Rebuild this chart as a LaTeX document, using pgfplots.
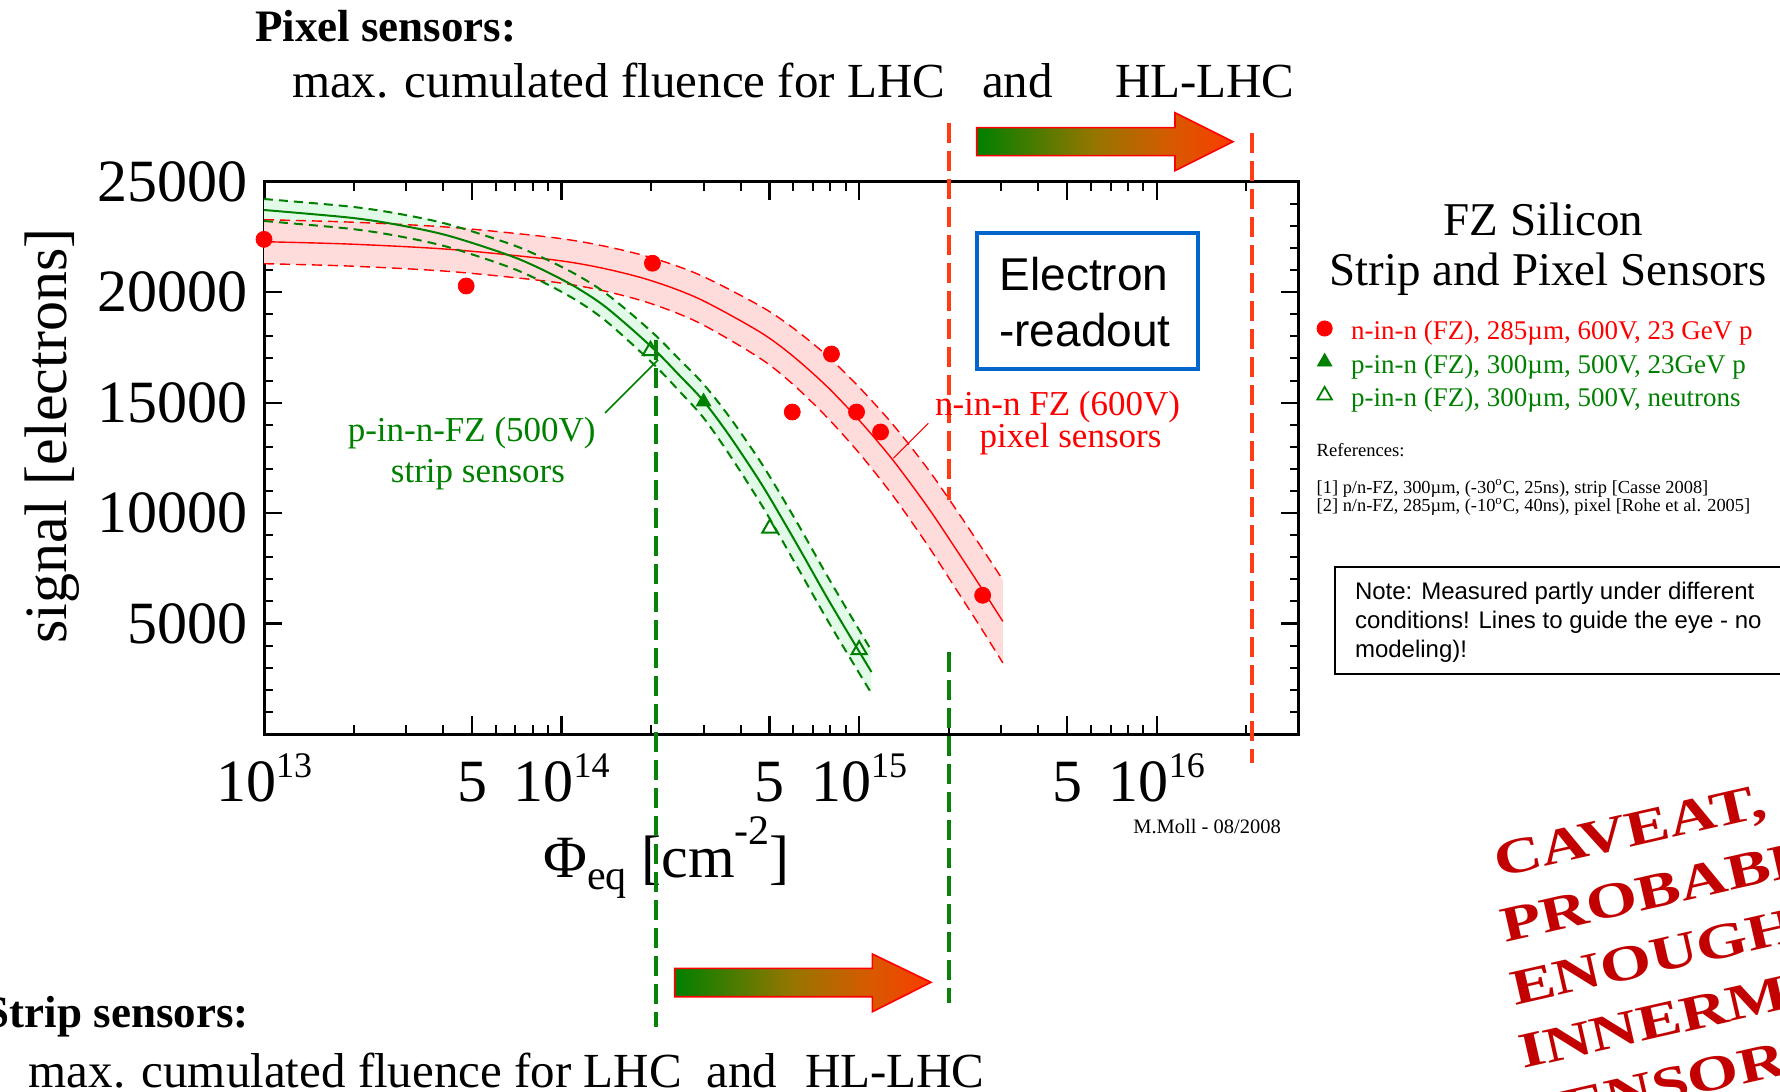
\documentclass[border=0pt]{standalone}
\usepackage{pgfplots}
\pgfplotsset{compat=1.18}
\usepackage{pgfplotstable}
\usepgfplotslibrary{fillbetween}
\usepackage{fontspec}
\setmainfont{Liberation Serif}
\newfontfamily\sansf{Liberation Sans}
\newcommand\fs[1]{\fontsize{#1}{#1}\selectfont}
\newcommand\tenp[1]{10\raisebox{0.4em}{\fs{18}#1}}
\definecolor{myred}{RGB}{255,0,0}
\definecolor{mygreen}{RGB}{0,128,0}
\definecolor{pinkfill}{RGB}{255,220,220}
\definecolor{greenfill}{RGB}{226,250,232}
\definecolor{vred}{RGB}{255,60,20}
\definecolor{vgreen}{RGB}{10,130,10}
\definecolor{boxblue}{RGB}{0,102,204}
\definecolor{caveat}{RGB}{195,0,0}
\definecolor{agreen}{RGB}{0,128,0}
\definecolor{amid}{RGB}{150,118,0}
\definecolor{aorange}{RGB}{215,90,0}
\definecolor{ared}{RGB}{250,60,0}
\pgfdeclarehorizontalshading{arrowgrad}{100bp}{color(0bp)=(agreen); color(25bp)=(agreen); color(48bp)=(amid); color(63bp)=(aorange); color(75bp)=(ared); color(100bp)=(ared)}

\pgfplotstableread{
x c u l
1.00e13 23719 24217 23221
1.95e13 23370 23873 22868
2.86e13 23031 23538 22524
4.22e13 22533 23049 22017
7.08e13 21533 22067 20998
1.04e14 20460 21030 19889
1.35e14 19509 20125 18894
1.69e14 18423 19088 17758
2.09e14 17291 17988 16594
2.49e14 16232 16952 15512
2.99e14 15096 15856 14335
3.67e14 13489 14344 12634
4.74e14 11226 12167 10284
6.17e14 8600 9596 7605
7.96e14 5975 6966 4984
1.10e15 2806 3775 1838
}\greenband

\pgfplotstableread{
x c u l
1.00e13 22284 23280 21288
1.95e13 22175 23171 21180
4.22e13 21935 22936 20935
9.14e13 21483 22488 20478
1.35e14 21107 22121 20093
1.98e14 20541 21582 19500
2.91e14 19690 20781 18599
4.64e14 18197 19382 17011
5.98e14 17115 18391 15838
7.78e14 15743 17137 14349
1.005e15 14172 15666 12679
1.30e15 12389 14000 10778
1.69e15 10320 12050 8591
2.06e15 8600 10397 6803
2.54e15 6735 8573 4898
3.04e15 5097 6975 3218
}\redband

\begin{document}
\begin{tikzpicture}
\path (0,0) rectangle (890pt,-545.5pt);
\begin{axis}[
  at={(132pt,-367pt)}, anchor=south west,
  scale only axis, width=517.35pt, height=276.15pt,
  xmode=log, xmin=1e13, xmax=3e16, ymin=0, ymax=25000,
  clip=false,
  scaled y ticks=false,
  axis line style={line width=1.5pt},
  tick align=inside,
  major tick length=9pt, minor tick length=4.5pt,
  major tick style={black, line width=1.1pt},
  minor tick style={black, line width=1pt},
  xtick={1e13,5e13,1e14,5e14,1e15,5e15,1e16},
  xticklabels={\tenp{13},5,\tenp{14},5,\tenp{15},5,\tenp{16}},
  minor xtick={2e13,3e13,4e13,6e13,7e13,8e13,9e13,2e14,3e14,4e14,6e14,7e14,8e14,9e14,2e15,3e15,4e15,6e15,7e15,8e15,9e15,2e16},
  ytick={5000,10000,15000,20000,25000},
  yticklabels={5000,10000,15000,20000,25000},
  minor ytick={1000,2000,3000,4000,6000,7000,8000,9000,11000,12000,13000,14000,16000,17000,18000,19000,21000,22000,23000,24000},
  /pgf/number format/assume math mode=true,
  tick label style={font=\fs{30}},
  xticklabel style={anchor=base, yshift=-33.85pt, inner sep=0pt},
  yticklabel style={anchor=east, inner sep=0pt, xshift=-8.25pt},
  xlabel={Φ\raisebox{-0.2em}{\fs{21}eq} [cm\raisebox{0.55em}{\fs{21}-2}]},
  ylabel={signal [electrons]},
  label style={font=\fs{30}},
  xlabel style={at={(rel axis cs:0.389,-0.2607)}, anchor=base, inner sep=0pt},
  ylabel style={at={(rel axis cs:-0.1907,0.5396)}, anchor=base, inner sep=0pt},
  legend style={at={(rel axis cs:1.0177,0.7496)}, anchor=north west, draw=none, fill=none,
    inner sep=0pt, outer sep=0pt, font=\fs{13.5}, row sep=3.2pt, column sep=9.5pt,
    nodes={inner sep=0pt, text height=10pt, text depth=3.5pt}},
  legend cell align=left,
  legend image post style={yshift=2.5pt},
]
\addlegendimage{only marks, mark=*, mark size=3.8pt, myred}
\addlegendentry{\textcolor{myred}{n-in-n (FZ), 285µm, 600V, 23 GeV p}}
\addlegendimage{only marks, mark=triangle*, mark size=4.2pt, mygreen}
\addlegendentry{\textcolor{mygreen}{p-in-n (FZ), 300µm, 500V, 23GeV p}}
\addlegendimage{only marks, mark=triangle, mark size=4.2pt, mygreen, mark options={line width=0.9pt}}
\addlegendentry{\textcolor{mygreen}{p-in-n (FZ), 300µm, 500V, neutrons}}

% bands
\addplot[draw=none, no markers, smooth, name path=gu] table[x=x,y=u]{\greenband};
\addplot[draw=none, no markers, smooth, name path=gl] table[x=x,y=l]{\greenband};
\addplot[draw=none, no markers, smooth, name path=ru] table[x=x,y=u]{\redband};
\addplot[draw=none, no markers, smooth, name path=rl] table[x=x,y=l]{\redband};
\addplot[greenfill, draw=none] fill between[of=gu and gl];
\addplot[pinkfill, draw=none] fill between[of=ru and rl];
% red lines
\addplot[myred, no markers, smooth, line width=0.7pt, dash pattern=on 5pt off 3pt] table[x=x,y=u]{\redband};
\addplot[myred, no markers, smooth, line width=0.7pt, dash pattern=on 5pt off 3pt] table[x=x,y=l]{\redband};
\addplot[myred, no markers, smooth, line width=0.7pt] table[x=x,y=c]{\redband};
% green lines
\addplot[mygreen, no markers, smooth, line width=1pt, dash pattern=on 4.5pt off 3pt] table[x=x,y=u]{\greenband};
\addplot[mygreen, no markers, smooth, line width=1pt, dash pattern=on 4.5pt off 3pt] table[x=x,y=l]{\greenband};
\addplot[mygreen, no markers, smooth, line width=1pt] table[x=x,y=c]{\greenband};
% data points
\addplot[only marks, mark=*, mark size=4pt, myred] coordinates {
 (1.0e13,22390) (4.78e13,20280) (2.02e14,21310) (5.96e14,14575)
 (8.07e14,17200) (9.8e14,14575) (1.18e15,13670) (2.6e15,6280)};
\addplot[only marks, mark=triangle*, mark size=4.2pt, mygreen] coordinates {(3.0e14,15040)};
\addplot[only marks, mark=triangle, mark size=4.4pt, mygreen, mark options={line width=1pt}] coordinates {
 (1.99e14,17350) (5.01e14,9311) (1.0e15,3810)};
\end{axis}

\begin{scope}[x=0.5pt, y=-0.5pt, every node/.style={inner sep=0pt, outer sep=0pt}]
% top texts
\node[anchor=base west, font=\bfseries\fs{22.5}] at (255,41.7) {Pixel sensors:};
\node[anchor=base west, font=\fs{24.5}] at (292,98) {max. cumulated fluence for LHC};
\node[anchor=base west, font=\fs{24.5}] at (982,98) {and};
\node[anchor=base west, font=\fs{24.5}] at (1115,98) {HL-LHC};
% bottom texts
\node[overlay, anchor=base east, font=\bfseries\fs{22.5}] at (248.7,1027) {Strip sensors:};
\node[overlay, anchor=base west, font=\fs{24.5}] at (28.7,1087) {max. cumulated fluence for LHC};
\node[overlay, anchor=base west, font=\fs{24.5}] at (706.6,1087) {and};
\node[overlay, anchor=base west, font=\fs{24.5}] at (805,1087) {HL-LHC};
% arrows
\shadedraw[shading=arrowgrad, draw=myred, line width=0.8pt]
  (976.7,127.7) -- (1175,127.7) -- (1175,112.7) -- (1233,141.7) -- (1175,170.7) -- (1175,155.7) -- (976.7,155.7) -- cycle;
\shadedraw[shading=arrowgrad, draw=myred, line width=0.8pt]
  (674.7,968.3) -- (872.4,968.3) -- (872.4,954) -- (931,982.3) -- (872.4,1011.7) -- (872.4,996.7) -- (674.7,996.7) -- cycle;
% vertical dashed lines
\draw[vred, line width=2pt, dash pattern=on 10pt off 4pt] (949,123) -- (949,500);
\draw[vred, line width=2pt, dash pattern=on 10pt off 4pt] (1251.7,133) -- (1251.7,763);
\draw[vgreen, line width=2pt, dash pattern=on 10pt off 4pt] (656,340) -- (656,1027);
\draw[vgreen, line width=2pt, dash pattern=on 10pt off 4pt] (949,652) -- (949,1003);
% electron box
\draw[boxblue, line width=2pt, fill=white] (976.7,232.7) rectangle (1197.7,369.3);
\node[anchor=base, font=\sansf\fs{23}] at (1084,290) {Electron};
\node[anchor=base, font=\sansf\fs{23}] at (1085,346.7) {-readout};
% plot labels
\node[anchor=base, text=mygreen, font=\fs{17.5}] at (471.7,441.7) {p-in-n-FZ (500V)};
\node[anchor=base, text=mygreen, font=\fs{17.5}] at (478,482) {strip sensors};
\draw[mygreen, line width=0.8pt] (605,413) -- (658,360);
\node[anchor=base, text=myred, font=\fs{17.5}] at (1057.5,415) {n-in-n FZ (600V)};
\node[anchor=base, text=myred, font=\fs{17.5}] at (1070.5,447) {pixel sensors};
\draw[myred, line width=0.6pt] (928.3,423.3) -- (893.3,458.3);
% M.Moll
\node[anchor=base west, font=\fs{10.25}] at (1133.3,833.3) {M.Moll - 08/2008};
% right titles
\node[overlay, anchor=base, font=\fs{23.5}] at (1543.3,235) {FZ Silicon};
\node[overlay, anchor=base, font=\fs{23.5}] at (1548,285) {Strip and Pixel Sensors};
\node[anchor=base west, font=\fs{9.3}] at (1316.7,456.7) {References:};
\node[anchor=base west, font=\fs{9.2}] at (1316.7,493.3) {[1] p/n-FZ, 300µm, (-30\textsuperscript{o}C, 25ns), strip [Casse 2008]};
\node[overlay, anchor=base west, font=\fs{9.2}] at (1316.7,511.7) {[2] n/n-FZ, 285µm, (-10\textsuperscript{o}C, 40ns), pixel [Rohe et al. 2005]};
% note box
\draw[overlay, black, line width=1pt] (1335,567.4) rectangle (1800,673.5);
\node[anchor=base west, font=\sansf\fs{12}] at (1355,599.7) {Note: Measured partly under different};
\node[overlay, anchor=base west, font=\sansf\fs{12}] at (1355,628.5) {conditions! Lines to guide the eye - no};
\node[anchor=base west, font=\sansf\fs{12}] at (1355,657.7) {modeling)!};
% caveat
\node[overlay, anchor=base west, rotate=12.85, text=caveat, font=\bfseries\fs{25}] at (1498.3,877.3) {\scalebox{1.32}[1]{CAVEAT,}};
\node[overlay, anchor=base west, rotate=12.85, text=caveat, font=\bfseries\fs{25}] at (1505,942.3) {\scalebox{1.32}[1]{PROBABLY NOT}};
\node[overlay, anchor=base west, rotate=12.85, text=caveat, font=\bfseries\fs{25}] at (1515,1005.6) {\scalebox{1.32}[1]{ENOUGH FOR}};
\node[overlay, anchor=base west, rotate=12.85, text=caveat, font=\bfseries\fs{25}] at (1523.3,1068.8) {\scalebox{1.32}[1]{INNERMOST}};
\node[overlay, anchor=base west, rotate=12.85, text=caveat, font=\bfseries\fs{25}] at (1531,1132.6) {\scalebox{1.32}[1]{SENSORS}};
\end{scope}
\end{tikzpicture}
\end{document}
